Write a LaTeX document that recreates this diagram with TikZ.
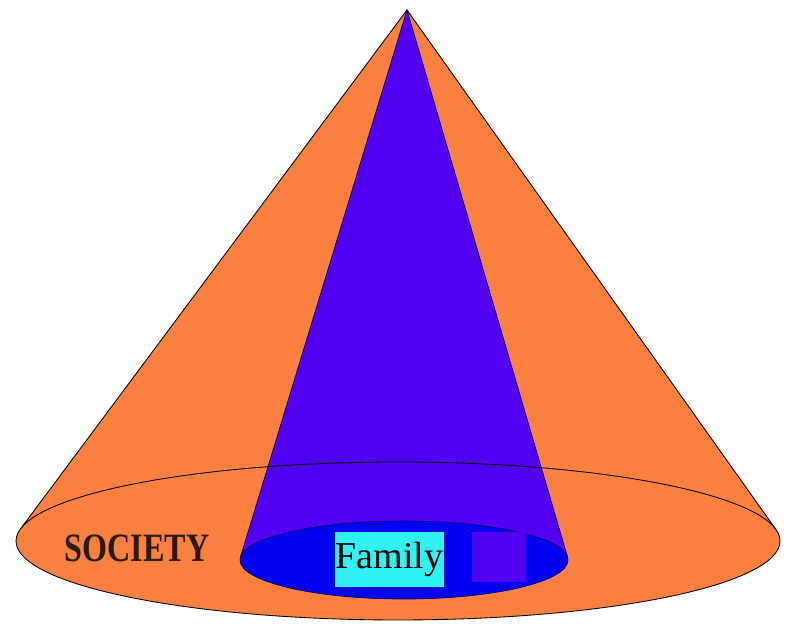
\documentclass[tikz,border=0pt]{standalone}
\usepackage{fontspec}
\setmainfont{Liberation Serif}
\usetikzlibrary{calc}

\definecolor{coneorange}{HTML}{FA8040}
\definecolor{conepurple}{HTML}{5200F0}
\definecolor{baseblue}{HTML}{0000F0}
\definecolor{familycyan}{HTML}{30F2F2}
\definecolor{societytext}{HTML}{2A1A12}

\begin{document}
\begin{tikzpicture}[x=0.025cm, y=0.025cm]
  \tikzset{
    outer_line/.style={draw=black, line width=0.6pt},
    inner_line/.style={draw=blue!40!black, line width=0.5pt},
    family_box/.style={fill=familycyan, inner sep=0pt, minimum width=2.725cm, minimum height=1.375cm, font=\fontsize{27}{27}\selectfont},
    member_box/.style={fill=conepurple, inner sep=0pt, minimum width=1.35cm, minimum height=1.25cm},
    society_label/.style={font=\bfseries\fontsize{22}{22}\selectfont, text=societytext}
  }

  % Marco de la imagen
  \useasboundingbox (0,0) rectangle (792,628);

  % Puntos base
  \coordinate (apex) at (407,618);
  \coordinate (society_c) at (398,87);
  \coordinate (family_c) at (404,68);
  \coordinate (s_left) at ($(society_c)+(171.2:382 and 79)$);
  \coordinate (s_right) at ($(society_c)+(8.4:382 and 79)$);
  \coordinate (f_left) at ($(family_c)+(175.86:164 and 39)$);
  \coordinate (f_right) at ($(family_c)+(4.0:164 and 39)$);

  % Cono exterior (naranja)
  \fill[coneorange] (apex) -- (s_left) -- (s_right) -- cycle;
  \fill[coneorange] (society_c) ellipse [x radius=382, y radius=79];

  % Cono interior (azul)
  \fill[conepurple] (apex) -- (f_left) arc[start angle=175.86, end angle=364.0, x radius=164, y radius=39] -- cycle;
  \filldraw[fill=baseblue, inner_line] (family_c) ellipse [x radius=164, y radius=39];
  \draw[inner_line] (f_left) -- (apex) -- (f_right);

  % Contorno exterior
  \draw[outer_line] (society_c) ellipse [x radius=382, y radius=79];
  \draw[outer_line] (s_left) -- (apex) -- (s_right);

  % Etiquetas
  \node[family_box] (family) at (389.5,68.5) {Family};
  \node[member_box] (member) at (499,71) {};
  \node[society_label] (society) at (137,80) {\scalebox{1.04}[1.3]{SOCIETY}};
\end{tikzpicture}
\end{document}
